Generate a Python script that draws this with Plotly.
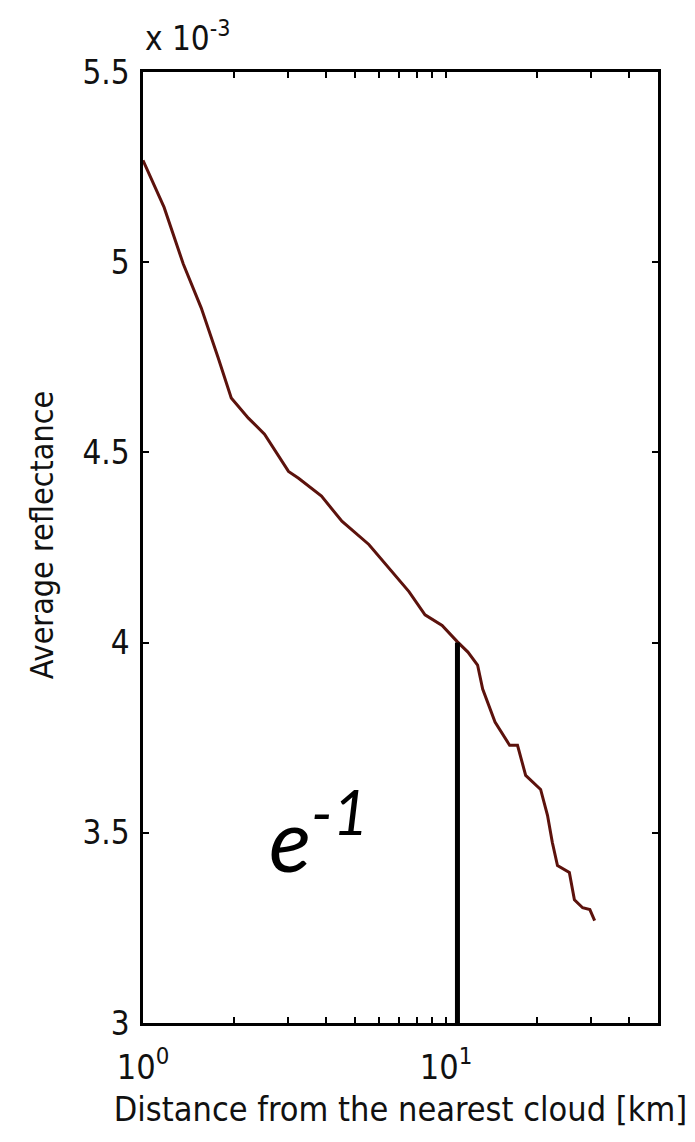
import plotly.graph_objects as go

# Curve (distance km, average reflectance x1e-3)
distance = [1.00, 1.174, 1.357, 1.556, 1.771, 1.955, 2.227, 2.517, 3.02, 3.26,
            3.88, 4.53, 5.56, 6.47, 7.54, 8.52, 9.70, 10.9, 11.8, 12.7, 13.2,
            14.5, 16.2, 17.2, 18.3, 20.5, 21.6, 22.4, 23.3, 25.5, 26.5, 28.2,
            29.8, 30.9]
reflectance = [5.268, 5.144, 4.996, 4.880, 4.748, 4.643, 4.590, 4.548, 4.450, 4.432,
               4.385, 4.319, 4.258, 4.195, 4.134, 4.073, 4.045, 4.002, 3.975, 3.941, 3.878,
               3.791, 3.730, 3.730, 3.651, 3.614, 3.546, 3.475, 3.414, 3.396, 3.324, 3.303,
               3.298, 3.269]

# e^-1 marker line
marker_x = [10.9, 10.9]
marker_y = [3.0, 4.0]

x_tickvals = [1, 2, 3, 4, 5, 6, 7, 8, 9, 10, 20, 30, 40]
x_ticktext = ["10<sup>0</sup>", "", "", "", "", "", "", "", "", "10<sup>1</sup>", "", "", ""]
y_tickvals = [3, 3.5, 4, 4.5, 5, 5.5]
y_ticktext = ["3", "3.5", "4", "4.5", "5", "5.5"]

FONT = "DejaVu Sans Condensed, DejaVu Sans"

fig = go.Figure()
fig.add_trace(go.Scatter(x=distance, y=reflectance, mode="lines",
                         line=dict(color="#5c120c", width=3), showlegend=False))
fig.add_trace(go.Scatter(x=marker_x, y=marker_y, mode="lines",
                         line=dict(color="black", width=5), showlegend=False))

fig.update_layout(
    width=695, height=1142,
    margin=dict(l=143, r=37, t=72, b=119),
    paper_bgcolor="white", plot_bgcolor="white",
    font=dict(family=FONT, color="#111111"),
    xaxis=dict(type="log", range=[0, 1.699], tickvals=x_tickvals, ticktext=x_ticktext,
               ticks="inside", ticklen=6, tickwidth=1.5, tickcolor="black",
               showline=True, linecolor="black", linewidth=2.5, mirror="ticks",
               showgrid=False, zeroline=False, ticklabelstandoff=12,
               tickfont=dict(family=FONT, size=34, color="#111111"),
               title=dict(text="Distance from the nearest cloud [km]",
                          font=dict(family=FONT, size=34, color="#111111"),
                          standoff=12)),
    yaxis=dict(range=[3, 5.5], tickvals=y_tickvals, ticktext=y_ticktext,
               ticks="inside", ticklen=6, tickwidth=1.5, tickcolor="black",
               showline=True, linecolor="black", linewidth=2.5, mirror="ticks",
               showgrid=False, zeroline=False, ticklabelstandoff=4,
               tickfont=dict(family=FONT, size=33, color="#111111")),
    annotations=[
        dict(text="Average reflectance", xref="paper", yref="paper", x=-0.196, y=0.513,
             xanchor="center", yanchor="middle", textangle=-90, showarrow=False,
             font=dict(family=FONT, size=32, color="#111111")),
        dict(text="x 10<sup>-3</sup>", xref="paper", yref="paper", x=0.0, y=1.0,
             xanchor="left", yanchor="bottom", showarrow=False, yshift=12,
             font=dict(family=FONT, size=33, color="#111111")),
        dict(text="<i>e<sup>-1</sup></i>", xref="paper", yref="paper", x=0.24, y=0.2,
             xanchor="left", yanchor="middle", showarrow=False,
             font=dict(family="Lato", size=88, color="black")),
    ],
)

fig.write_html("out.html")
